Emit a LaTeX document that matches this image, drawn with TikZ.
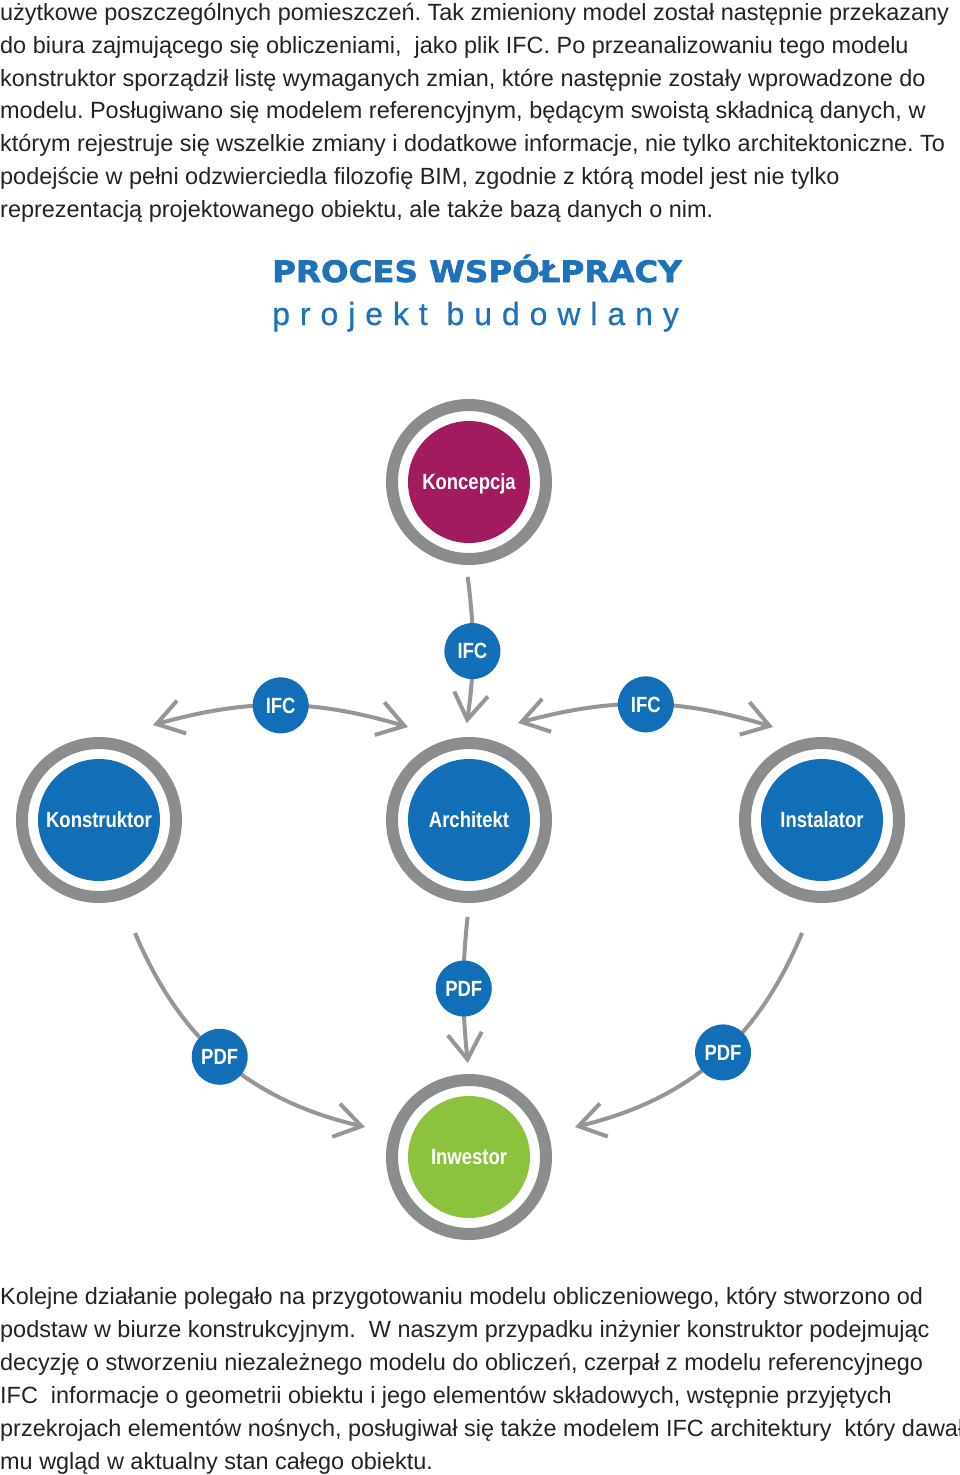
\documentclass[tikz,border=0pt]{standalone}
\usepackage{fontspec}
\setmainfont{Liberation Sans}
\newfontfamily\labelfont[FakeStretch=0.84]{Liberation Sans}
\newfontfamily\titlefont[FakeStretch=1.1,FakeBold=2]{DejaVu Sans}
\newfontfamily\subtitlefont[LetterSpace=31,FakeBold=0.6]{Liberation Sans}
\usetikzlibrary{arrows.meta}
\definecolor{titleblue}{RGB}{30,114,186}
\definecolor{nodeblue}{RGB}{18,111,183}
\definecolor{concept}{RGB}{161,27,94}
\definecolor{investor}{RGB}{140,194,62}
\definecolor{ringgray}{RGB}{139,140,142}
\definecolor{arrowgray}{RGB}{150,150,150}
\definecolor{textgray}{RGB}{35,35,35}
\frenchspacing

\begin{document}
\begin{tikzpicture}
				[
					x = 1pt, y = -1pt,
					stage/.style = {circle, draw=ringgray, line width=12pt, fill=white, minimum size=154pt, inner sep=0pt,
						text=white, font=\labelfont\bfseries\fontsize{22}{22}\selectfont, text height=15.8pt, text depth=0pt,
						path picture={\fill[#1] (path picture bounding box.center) circle[radius=61pt];}},
					tag/.style = {circle, fill=nodeblue, minimum size=56pt, inner sep=0pt,
						text=white, font=\labelfont\bfseries\fontsize{22}{22}\selectfont, text height=15.8pt, text depth=0pt},
					flow/.style = {draw=arrowgray, line width=4pt, -{Straight Barb[length=26pt,width=34pt]}},
					swap/.style = {flow, {Straight Barb[length=26pt,width=34pt]}-{Straight Barb[length=26pt,width=34pt]}},
					para/.style = {anchor=base west, inner sep=0pt, text=textgray, font=\fontsize{23.45}{33}\selectfont}
				]
				\fill[white] (0,0) rectangle (960,1475);
				\useasboundingbox (0,0) rectangle (960,1475);

				% text above
				\foreach \txt [count=\i] in {
					{użytkowe poszczególnych pomieszczeń. Tak zmieniony model został następnie przekazany},
					{do biura zajmującego się obliczeniami,\ \ jako plik IFC. Po przeanalizowaniu tego modelu},
					{konstruktor sporządził listę wymaganych zmian, które następnie zostały wprowadzone do},
					{modelu. Posługiwano się modelem referencyjnym, będącym swoistą składnicą danych, w},
					{którym rejestruje się wszelkie zmiany i dodatkowe informacje, nie tylko architektoniczne. To},
					{podejście w pełni odzwierciedla filozofię BIM, zgodnie z którą model jest nie tylko},
					{reprezentacją projektowanego obiektu, ale także bazą danych o nim.}}
					\node[para] (top\i) at (0,{20.5+32.8*(\i-1)}) {\txt};

				% title
				\node[anchor=base west, inner sep=0pt, text=titleblue, font=\titlefont\bfseries\fontsize{29.5}{29.5}\selectfont] (title) at (272,282) {PROCES WSPÓŁPRACY};
				\node[anchor=base west, inner sep=0pt, text=titleblue, font=\subtitlefont\fontsize{32}{32}\selectfont] (subtitle) at (272,325) {projekt budowlany};

				% stages
				\node[stage=concept] (koncepcja) at (469,482) {Koncepcja};
				\node[stage=nodeblue] (konstruktor) at (99,820) {Konstruktor};
				\node[stage=nodeblue] (architekt) at (469,820) {Architekt};
				\node[stage=nodeblue] (instalator) at (822,820) {Instalator};
				\node[stage=investor] (inwestor) at (469,1157) {Inwestor};

				\coordinate (kon-end) at (153,725);
				\coordinate (arch-west) at (408,727);
				\coordinate (arch-east) at (518,723);
				\coordinate (inst-end) at (773,727);
				\coordinate (kon-foot) at (135,933);
				\coordinate (inw-west) at (365,1127);
				\coordinate (inst-foot) at (802,933);
				\coordinate (inw-east) at (575,1127);

				% exchanges
				\draw[flow, shorten <=12pt, shorten >=14pt] (koncepcja.-92) to[bend left=8] node[tag] (ifc-top) {IFC} (architekt.93);
				\draw[swap] (kon-end) to[bend left=16] node[tag] (ifc-left) {IFC} (arch-west);
				\draw[swap] (arch-east) to[bend left=16] node[tag] (ifc-right) {IFC} (inst-end);
				\draw[flow, shorten <=14pt, shorten >=11pt] (architekt.-90) to[bend right=6] node[tag] (pdf-mid) {PDF} (inwestor.90);
				\draw[flow] (kon-foot) to[bend right=27] node[tag, pos=.48] (pdf-left) {PDF} (inw-west);
				\draw[flow] (inst-foot) to[bend left=27] node[tag, pos=.46] (pdf-right) {PDF} (inw-east);

				% text below
				\foreach \txt [count=\i] in {
					{Kolejne działanie polegało na przygotowaniu modelu obliczeniowego, który stworzono od},
					{podstaw w biurze konstrukcyjnym.\ \ W naszym przypadku inżynier konstruktor podejmując},
					{decyzję o stworzeniu niezależnego modelu do obliczeń, czerpał z modelu referencyjnego},
					{IFC\ \ informacje o geometrii obiektu i jego elementów składowych, wstępnie przyjętych},
					{przekrojach elementów nośnych, posługiwał się także modelem IFC architektury\ \ który dawał},
					{mu wgląd w aktualny stan całego obiektu.}}
					\node[para] (bottom\i) at (0,{1304+33*(\i-1)}) {\txt};
		\end{tikzpicture}
\end{document}
